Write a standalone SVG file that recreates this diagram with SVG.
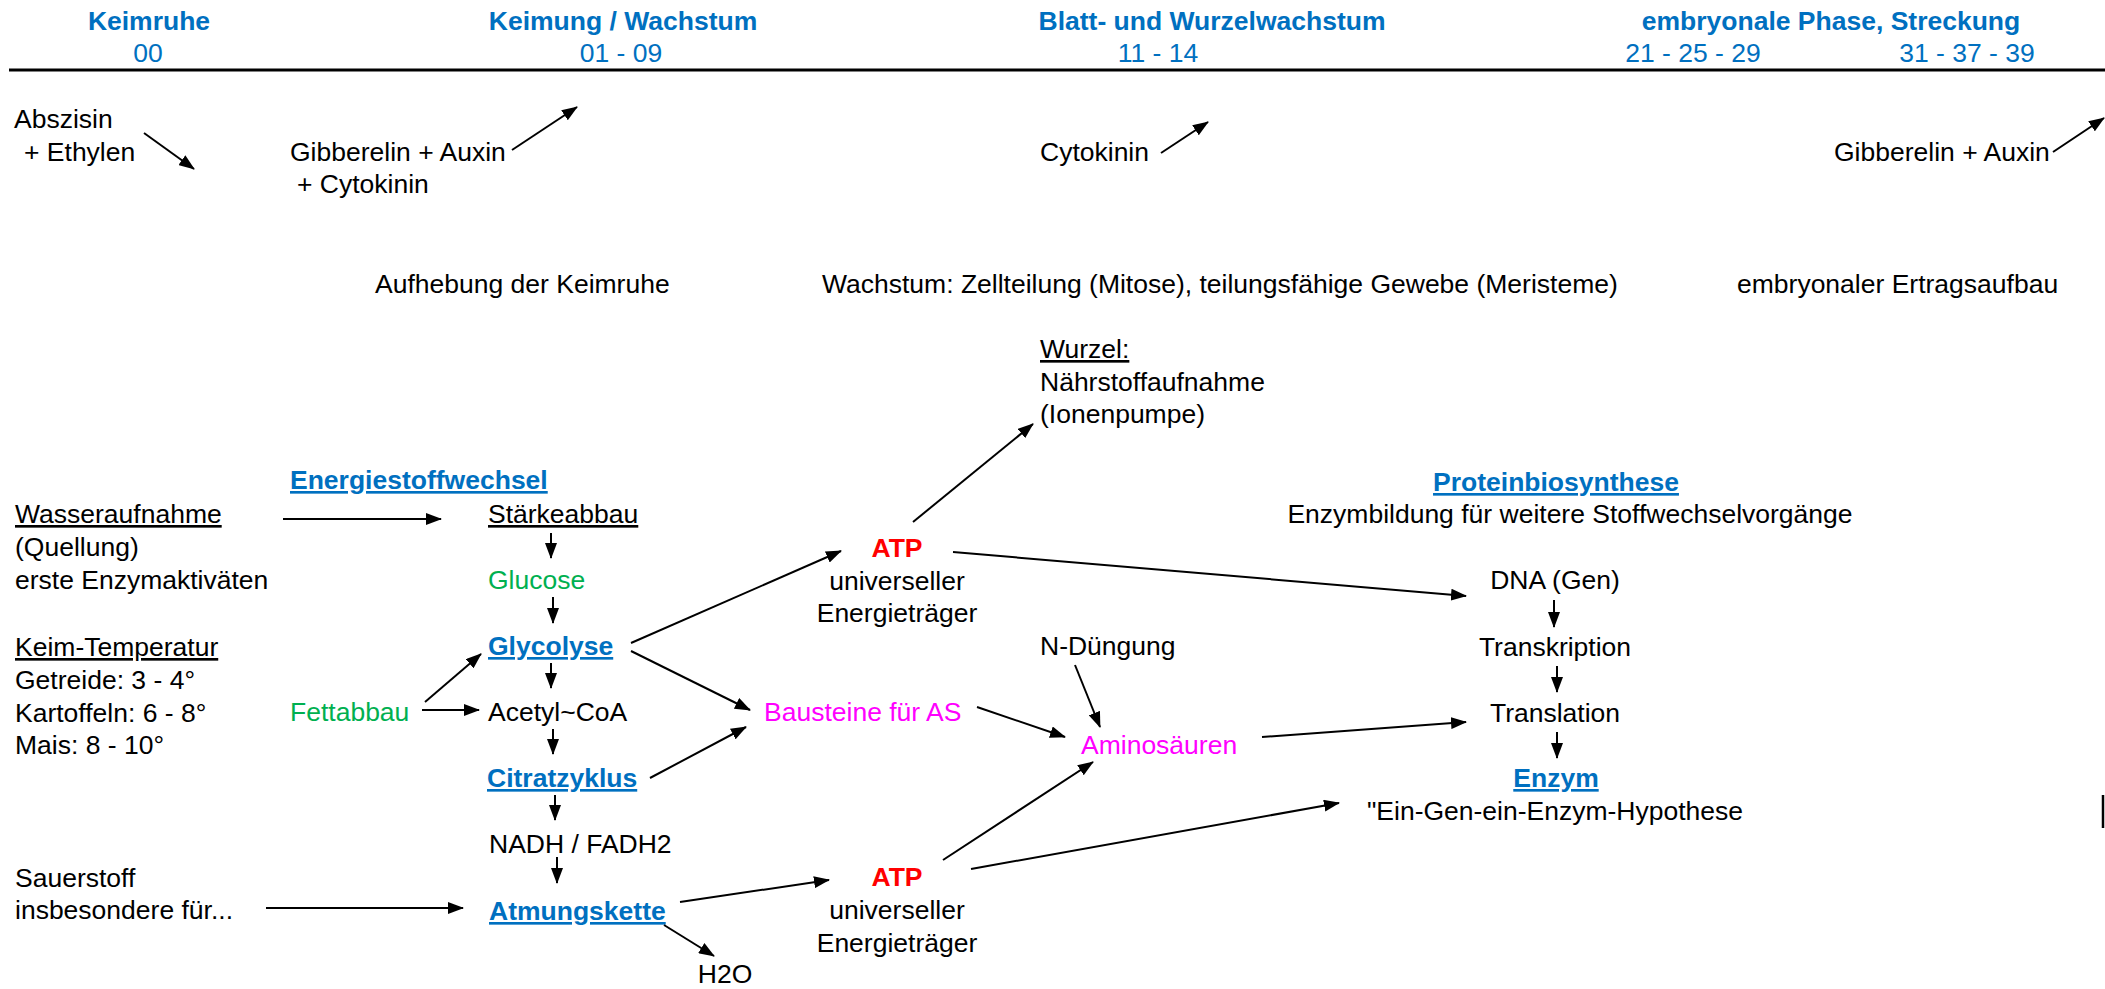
<svg xmlns="http://www.w3.org/2000/svg" width="2105" height="989" viewBox="0 0 2105 989">
<style>
text{font-family:"Liberation Sans",Arial,sans-serif;font-size:26.5px;fill:#000}
.b{font-weight:bold}
.blue{fill:#0070C0}
.green{fill:#00B050}
.mag{fill:#FF00FF}
.red{fill:#FF0000}
.u{text-decoration:underline}
.m{text-anchor:middle}
.c line{stroke:#000;stroke-width:2;marker-end:url(#ah)}
</style>
<defs>
<marker id="ah" markerUnits="userSpaceOnUse" markerWidth="16" markerHeight="12" refX="15" refY="6" orient="auto">
<path d="M0,0 L16,6 L0,12 z" fill="#000"/>
</marker>
</defs>
<rect width="2105" height="989" fill="#fff"/>
<g id="header">
<text class="b blue m" x="149" y="30">Keimruhe</text>
<text class="blue m" x="148" y="62">00</text>
<text class="b blue m" x="623" y="30">Keimung / Wachstum</text>
<text class="blue m" x="621" y="62">01 - 09</text>
<text class="b blue m" x="1212" y="30">Blatt- und Wurzelwachstum</text>
<text class="blue m" x="1158" y="62">11 - 14</text>
<text class="b blue m" x="1831" y="30">embryonale Phase, Streckung</text>
<text class="blue m" x="1693" y="62">21 - 25 - 29</text>
<text class="blue m" x="1967" y="62">31 - 37 - 39</text>
<line x1="9" y1="70" x2="2105" y2="70" stroke="#000" stroke-width="3"/>
</g>
<g id="abszisin"><text x="14" y="128">Abszisin</text><text x="24" y="161">+ Ethylen</text></g>
<g id="gibberelin1"><text x="290" y="161">Gibberelin + Auxin</text><text x="297" y="193">+ Cytokinin</text></g>
<g id="cytokinin"><text x="1040" y="161">Cytokinin</text></g>
<g id="gibberelin2"><text x="1834" y="161">Gibberelin + Auxin</text></g>
<g id="aufhebung"><text x="375" y="293">Aufhebung der Keimruhe</text></g>
<g id="wachstum"><text x="822" y="293">Wachstum: Zellteilung (Mitose), teilungsfähige Gewebe (Meristeme)</text></g>
<g id="ertrag"><text x="1737" y="293">embryonaler Ertragsaufbau</text></g>
<g id="wurzel"><text class="u" x="1040" y="358">Wurzel:</text><text x="1040" y="391">Nährstoffaufnahme</text><text x="1040" y="423">(Ionenpumpe)</text></g>
<g id="energiestoffwechsel"><text class="b blue u" x="290" y="489">Energiestoffwechsel</text></g>
<g id="wasser"><text class="u" x="15" y="523">Wasseraufnahme</text><text x="15" y="556">(Quellung)</text><text x="15" y="589">erste Enzymaktiväten</text></g>
<g id="temperatur"><text class="u" x="15" y="656">Keim-Temperatur</text><text x="15" y="689">Getreide: 3 - 4°</text><text x="15" y="722">Kartoffeln: 6 - 8°</text><text x="15" y="754">Mais: 8 - 10°</text></g>
<g id="sauerstoff"><text x="15" y="887">Sauerstoff</text><text x="15" y="919">insbesondere für...</text></g>
<g id="staerke"><text class="u" x="488" y="523">Stärkeabbau</text></g>
<g id="glucose"><text class="green" x="488" y="589">Glucose</text></g>
<g id="glycolyse"><text class="b blue u" x="488" y="655">Glycolyse</text></g>
<g id="fettabbau"><text class="green" x="290" y="721">Fettabbau</text></g>
<g id="acetyl"><text x="488" y="721">Acetyl~CoA</text></g>
<g id="citrat"><text class="b blue u" x="487" y="787">Citratzyklus</text></g>
<g id="nadh"><text x="489" y="853">NADH / FADH2</text></g>
<g id="atmung"><text class="b blue u" x="489" y="920">Atmungskette</text></g>
<g id="h2o"><text class="m" x="725" y="983">H2O</text></g>
<g id="atp1"><text class="b red m" x="897" y="557">ATP</text><text class="m" x="897" y="590">universeller</text><text class="m" x="897" y="622">Energieträger</text></g>
<g id="atp2"><text class="b red m" x="897" y="886">ATP</text><text class="m" x="897" y="919">universeller</text><text class="m" x="897" y="952">Energieträger</text></g>
<g id="bausteine"><text class="mag" x="764" y="721">Bausteine für AS</text></g>
<g id="ndung"><text x="1040" y="655">N-Düngung</text></g>
<g id="aminos"><text class="mag" x="1081" y="754">Aminosäuren</text></g>
<g id="protein"><text class="b blue u m" x="1556" y="491">Proteinbiosynthese</text><text class="m" x="1570" y="523">Enzymbildung für weitere Stoffwechselvorgänge</text></g>
<g id="dna"><text class="m" x="1555" y="589">DNA (Gen)</text></g>
<g id="transkription"><text class="m" x="1555" y="656">Transkription</text></g>
<g id="translation"><text class="m" x="1555" y="722">Translation</text></g>
<g id="enzym"><text class="b blue u m" x="1556" y="787">Enzym</text><text class="m" x="1555" y="820">"Ein-Gen-ein-Enzym-Hypothese</text></g>
<g id="bar"><line x1="2103" y1="795" x2="2103" y2="828" stroke="#000" stroke-width="2.5"/></g>
<g id="connectors" class="c">
<line x1="144" y1="133" x2="194" y2="169"/>
<line x1="512" y1="150" x2="577" y2="107"/>
<line x1="1161" y1="153" x2="1208" y2="122"/>
<line x1="2053" y1="152" x2="2104" y2="118"/>
<line x1="283" y1="519" x2="441" y2="519"/>
<line x1="551" y1="533" x2="551" y2="558"/>
<line x1="553" y1="597" x2="553" y2="623"/>
<line x1="551" y1="663" x2="551" y2="688"/>
<line x1="553" y1="729" x2="553" y2="754"/>
<line x1="555" y1="795" x2="555" y2="820"/>
<line x1="557" y1="857" x2="557" y2="883"/>
<line x1="425" y1="702" x2="481" y2="654"/>
<line x1="422" y1="710" x2="479" y2="710"/>
<line x1="266" y1="908" x2="463" y2="908"/>
<line x1="664" y1="925" x2="714" y2="956"/>
<line x1="680" y1="902" x2="829" y2="880"/>
<line x1="631" y1="643" x2="841" y2="551"/>
<line x1="631" y1="651" x2="750" y2="710"/>
<line x1="650" y1="778" x2="746" y2="727"/>
<line x1="913" y1="522" x2="1033" y2="424"/>
<line x1="953" y1="552" x2="1466" y2="596"/>
<line x1="977" y1="707" x2="1065" y2="737"/>
<line x1="1075" y1="665" x2="1100" y2="727"/>
<line x1="1262" y1="737" x2="1466" y2="722"/>
<line x1="943" y1="860" x2="1093" y2="762"/>
<line x1="971" y1="869" x2="1339" y2="803"/>
<line x1="1554" y1="600" x2="1554" y2="627"/>
<line x1="1557" y1="666" x2="1557" y2="692"/>
<line x1="1557" y1="732" x2="1557" y2="758"/>
</g>
</svg>
